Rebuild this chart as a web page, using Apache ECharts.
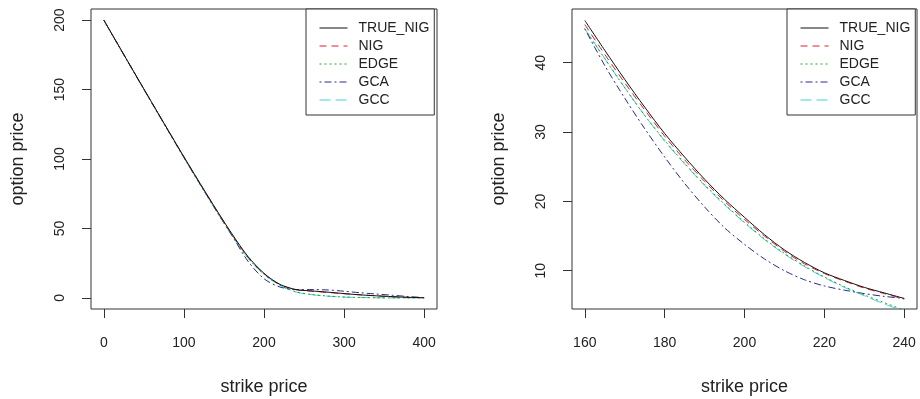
<!DOCTYPE html>
<html>
<head>
<meta charset="utf-8">
<script src="https://cdn.jsdelivr.net/npm/echarts@6/dist/echarts.min.js"></script>
<style>
html,body{margin:0;padding:0;background:#fff;}
#c{width:920px;height:399px;}
</style>
</head>
<body>
<div id="c"></div>
<script>
// ---- data ----
const seriesNames = ['TRUE_NIG', 'NIG', 'EDGE', 'GCA', 'GCC'];

// left panel: strike 0..400
const leftStrike = [0, 20, 40, 60, 80, 100, 120, 140, 160, 180, 200, 220, 240, 260, 280, 300, 320, 340, 360, 380, 400];
const leftTrue = [200, 180.1, 160.3, 140.6, 121.0, 101.6, 82.6, 64.0, 46.1, 29.8, 17.7, 9.7, 6.0, 5.0, 4.1, 3.1, 2.2, 1.5, 0.9, 0.4, 0.1];
const leftNig  = [200, 180.1, 160.3, 140.6, 121.0, 101.5, 82.4, 63.7, 45.5, 29.4, 17.4, 9.6, 5.9, 4.8, 3.9, 3.0, 2.2, 1.5, 0.9, 0.4, 0.1];
const leftEdge = [200, 180.0, 160.1, 140.3, 120.6, 101.0, 81.9, 63.0, 44.9, 28.8, 17.0, 9.1, 4.3, 2.4, 1.3, 0.6, 0.3, 0.1, 0.0, 0.0, 0.0];
const leftGca  = [200, 180.0, 160.1, 140.3, 120.6, 101.0, 81.9, 63.2, 44.9, 26.4, 13.8, 7.8, 6.0, 6.0, 5.7, 4.8, 3.7, 2.8, 1.9, 1.0, 0.2];
const leftGcc  = [200, 180.0, 160.1, 140.3, 120.6, 101.0, 81.9, 63.0, 44.9, 28.7, 16.9, 9.0, 4.2, 2.3, 1.2, 0.6, 0.3, 0.1, 0.0, 0.0, 0.0];

// right panel: strike 160..240
const rightStrike = [160, 165, 170, 175, 180, 185, 190, 195, 200, 205, 210, 215, 220, 225, 230, 235, 240];
const rightTrue = [46.1, 41.8, 37.6, 33.6, 29.8, 26.4, 23.2, 20.3, 17.7, 15.2, 13.0, 11.2, 9.7, 8.6, 7.6, 6.8, 6.0];
const rightNig  = [45.5, 41.2, 37.1, 33.2, 29.4, 26.0, 22.9, 20.0, 17.4, 15.0, 12.8, 11.0, 9.6, 8.5, 7.5, 6.7, 5.9];
const rightEdge = [44.9, 40.6, 36.4, 32.4, 28.8, 25.5, 22.4, 19.6, 17.0, 14.6, 12.5, 10.7, 9.1, 7.7, 6.5, 5.4, 4.3];
const rightGca  = [44.9, 39.6, 34.9, 30.5, 26.4, 22.6, 19.2, 16.2, 13.8, 11.7, 10.0, 8.7, 7.8, 7.2, 6.7, 6.3, 6.0];
const rightGcc  = [44.9, 40.6, 36.4, 32.4, 28.7, 25.4, 22.3, 19.5, 16.9, 14.5, 12.4, 10.6, 9.0, 7.6, 6.4, 5.2, 4.2];

// tick labels
const leftXTicks = [0, 100, 200, 300, 400];
const leftYTicks = [0, 50, 100, 150, 200];
const rightXTicks = [160, 180, 200, 220, 240];
const rightYTicks = [10, 20, 30, 40];

// ---- styles ----
const FONT = 'Liberation Sans, Arial, sans-serif';
const TXT = '#222';
const styles = [
  { color: '#111111', type: 'solid' },
  { color: '#e0202a', type: [7, 5] },
  { color: '#22a022', type: [2, 3] },
  { color: '#2a2a8c', type: [2, 3, 7, 3] },
  { color: '#45d0e0', type: [11, 5] }
];

function pairs(xs, ys) { return xs.map((x, i) => [x, ys[i]]); }

const leftSets = [leftTrue, leftNig, leftEdge, leftGca, leftGcc];
const rightSets = [rightTrue, rightNig, rightEdge, rightGca, rightGcc];

function xAxisDef(gridIndex, min, max, ticks) {
  return {
    type: 'value', gridIndex, min, max, position: 'bottom',
    name: 'strike price', nameLocation: 'middle', nameGap: 69,
    nameTextStyle: { fontFamily: FONT, fontSize: 18, color: TXT },
    axisLine: { show: false, onZero: false },
    axisTick: { show: true, customValues: ticks, length: 9, lineStyle: { color: '#333', width: 1 } },
    axisLabel: { customValues: ticks, margin: 27, fontFamily: FONT, fontSize: 14, color: TXT },
    splitLine: { show: false }
  };
}
function yAxisDef(gridIndex, min, max, ticks) {
  return {
    type: 'value', gridIndex, min, max, position: 'left',
    name: 'option price', nameLocation: 'middle', nameGap: 64,
    nameTextStyle: { fontFamily: FONT, fontSize: 18, color: TXT },
    axisLine: { show: false, onZero: false },
    axisTick: { show: true, customValues: ticks, length: 9, lineStyle: { color: '#333', width: 1 } },
    axisLabel: { customValues: ticks, rotate: 90, margin: 24, fontFamily: FONT, fontSize: 14, color: TXT },
    splitLine: { show: false }
  };
}

const series = [];
function addSeries(sets, xs, idx) {
  sets.forEach((vals, i) => {
    series.push({
      name: seriesNames[i], type: 'line', xAxisIndex: idx, yAxisIndex: idx,
      data: pairs(xs, vals), symbol: 'none', showSymbol: false,
      smooth: 0.3,
      lineStyle: { color: styles[i].color, type: styles[i].type, width: 1 },
      itemStyle: { color: styles[i].color }, z: 10 - i, animation: false
    });
  });
}
addSeries(leftSets, leftStrike, 0);
addSeries(rightSets, rightStrike, 1);

function legendDef(left) {
  return {
    orient: 'vertical', left, top: 9, align: 'left',
    data: seriesNames, itemWidth: 28, itemHeight: 14, itemGap: 4,
    padding: [12, 5, 8, 13],
    backgroundColor: '#fff', borderColor: '#333', borderWidth: 1,
    itemStyle: { opacity: 0, color: 'rgba(0,0,0,0)', borderWidth: 0 },
    lineStyle: { width: 1 },
    textStyle: { fontFamily: FONT, fontSize: 14, color: TXT, padding: [0, 0, 0, 6] },
    selectedMode: false, z: 20
  };
}

const option = {
  animation: false,
  backgroundColor: '#fff',
  grid: [
    { left: 91, top: 9, width: 346, height: 300, show: true, borderColor: '#333', borderWidth: 1, backgroundColor: 'transparent', outerBoundsMode: 'none', containLabel: false },
    { left: 572, top: 9, width: 345, height: 300, show: true, borderColor: '#333', borderWidth: 1, backgroundColor: 'transparent', outerBoundsMode: 'none', containLabel: false }
  ],
  xAxis: [xAxisDef(0, -16, 416, leftXTicks), xAxisDef(1, 156.8, 243.2, rightXTicks)],
  yAxis: [yAxisDef(0, -8, 208, leftYTicks), yAxisDef(1, 4.48, 47.75, rightYTicks)],
  legend: [legendDef(306), legendDef(787)],
  series
};

const chart = echarts.init(document.getElementById('c'), null, { renderer: 'canvas' });
chart.setOption(option);
</script>
</body>
</html>
